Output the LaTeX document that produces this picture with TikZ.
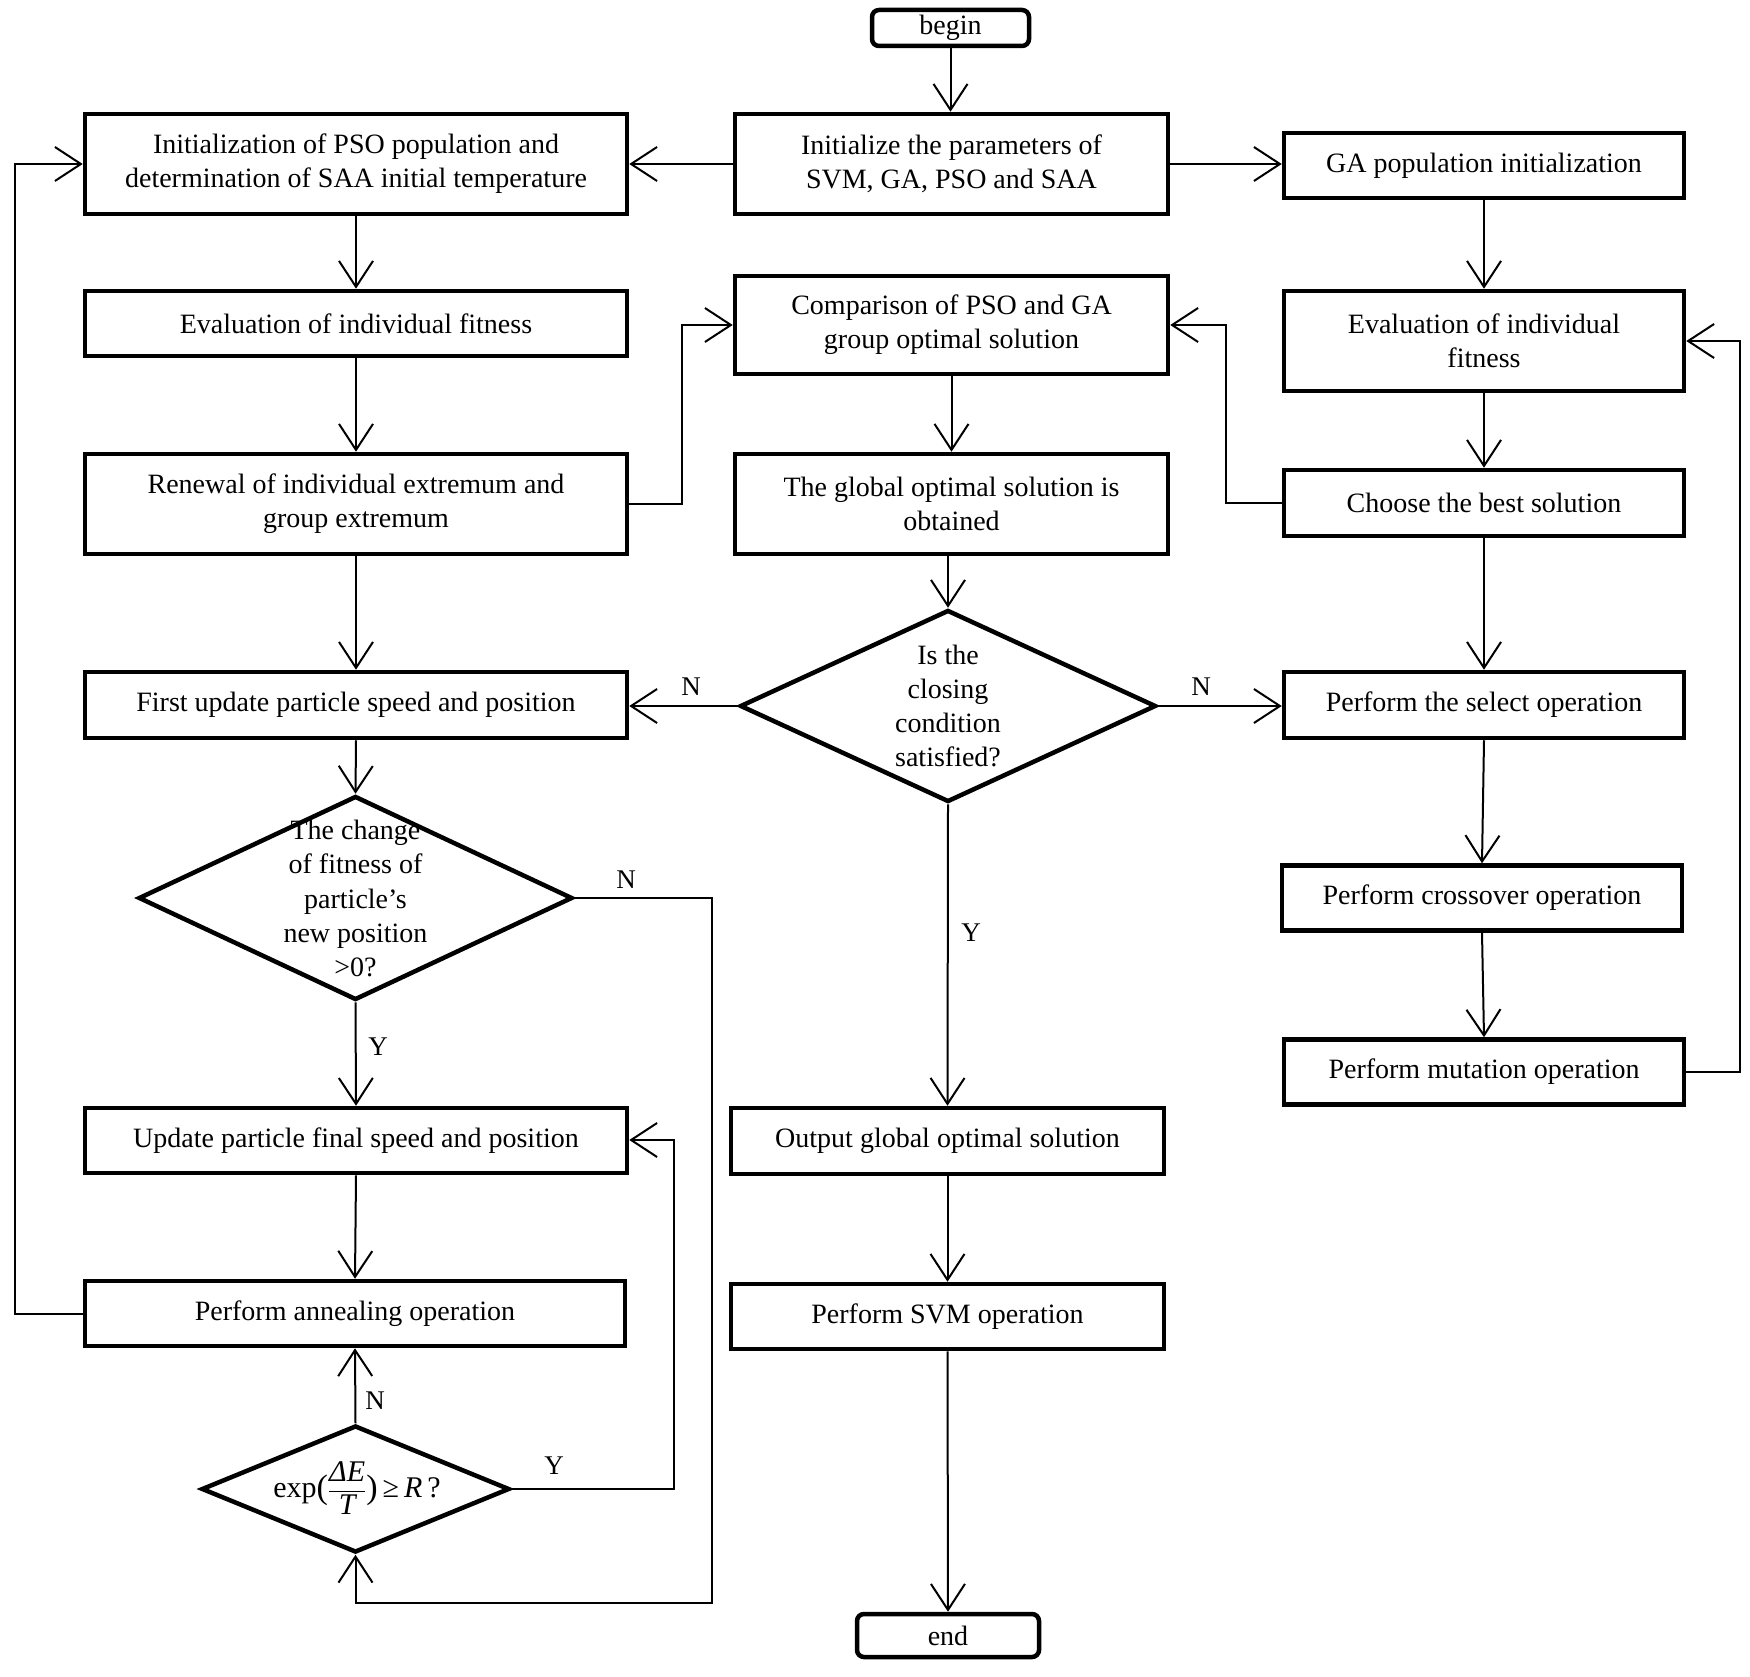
\documentclass[tikz,border=0pt]{standalone}
\usepackage{fontspec}
\setmainfont{Liberation Serif}
\usetikzlibrary{arrows.meta,shapes.geometric}
\begin{document}
\begin{tikzpicture}[x=1pt,y=-1pt,
  box/.style={draw,line width=4.5pt,rectangle,inner sep=0pt,align=center,font=\fontsize{28}{34}\selectfont},
  term/.style={box,rounded corners=7pt},
  diam/.style={draw,line width=4.5pt,diamond,inner sep=0pt},
  dtext/.style={align=center,font=\fontsize{28}{34.3}\selectfont,inner sep=0pt},
  conn/.style={line width=2pt,-{Straight Barb[length=26pt,width=34pt,line width=2pt]}},
  lab/.style={font=\fontsize{27}{30}\selectfont,inner sep=0pt}]
\useasboundingbox (0,0) rectangle (1750,1677);
% centre column
\node[term,minimum width=157pt,minimum height=36pt] (begin) at (950.5,28) {begin};
\node[box,minimum width=433pt,minimum height=100pt] (c1) at (951.5,164) {Initialize the parameters of\\SVM, GA, PSO and SAA};
\node[box,minimum width=433pt,minimum height=98pt] (c2) at (951.5,325) {Comparison of PSO and GA\\group optimal solution};
\node[box,minimum width=433pt,minimum height=100pt] (c3) at (951.5,504) {The global optimal solution is\\obtained};
\node[diam,minimum width=416pt,minimum height=192pt] (d1) at (948,706) {};
\node[dtext] (d1t) at (d1) {Is the\\closing\\condition\\satisfied?};
\node[box,minimum width=433pt,minimum height=66pt] (c4) at (947.5,1141) {Output global optimal solution};
\node[box,minimum width=433pt,minimum height=65pt] (c5) at (947.5,1316.5) {Perform SVM operation};
\node[term,minimum width=182pt,minimum height=43pt] (end) at (948,1635.5) {end};
% left column
\node[box,minimum width=542pt,minimum height=100pt] (p1) at (356,164) {Initialization of PSO population and\\determination of SAA initial temperature};
\node[box,minimum width=542pt,minimum height=65pt] (p2) at (356,323.5) {Evaluation of individual fitness};
\node[box,minimum width=542pt,minimum height=100pt] (p3) at (356,504) {Renewal of individual extremum and\\group extremum};
\node[box,minimum width=542pt,minimum height=66pt] (p4) at (356,705) {First update particle speed and position};
\node[diam,minimum width=434pt,minimum height=204pt] (d2) at (355.5,898) {};
\node[dtext] (d2t) at (355.5,898.5) {The change\\of fitness of\\particle's\\new position\\>0?};
\node[box,minimum width=542pt,minimum height=65pt] (p5) at (356,1140.5) {Update particle final speed and position};
\node[box,minimum width=540pt,minimum height=65pt] (p6) at (355,1313.5) {Perform annealing operation};
\node[diam,minimum width=308pt,minimum height=127pt] (d3) at (355.5,1489) {};
\node[dtext,font=\fontsize{30}{34}\selectfont] (d3t) at (357,1489) {exp\raisebox{-1pt}{\fontsize{34}{36}\selectfont(}$\displaystyle\frac{\rule{0pt}{24pt}\textit{ΔE}}{\rule[-6pt]{0pt}{27pt}\textit{T}}$\raisebox{-1pt}{\fontsize{34}{36}\selectfont)}\,≥\,\textit{R}\,?};
% right column
\node[box,minimum width=400pt,minimum height=65pt] (g1) at (1484,165.5) {GA population initialization};
\node[box,minimum width=400pt,minimum height=100pt] (g2) at (1484,341) {Evaluation of individual\\fitness};
\node[box,minimum width=400pt,minimum height=66pt] (g3) at (1484,503) {Choose the best solution};
\node[box,minimum width=400pt,minimum height=66pt] (g4) at (1484,705) {Perform the select operation};
\node[box,minimum width=400pt,minimum height=65pt] (g5) at (1482,898) {Perform crossover operation};
\node[box,minimum width=400pt,minimum height=65pt] (g6) at (1484,1072) {Perform mutation operation};
% helper coordinates
\coordinate (xF) at (682,0);
\coordinate (xE) at (1226,0);
\coordinate (xD) at (1740,0);
\coordinate (xC) at (15,0);
\coordinate (lpA) at (712,1603);
\coordinate (lpB) at (674,1140);
% connectors centre
\draw[conn] (begin.south) -- (begin.south |- c1.north);
\draw[conn] (c1.west) -- (c1.west -| p1.east);
\draw[conn] (c1.east) -- (c1.east -| g1.west);
\draw[conn] (c2.south) -- (c3.north);
\draw[conn] (c3.south -| d1.north) -- (d1.north);
\draw[conn] (d1.west) -- (d1.west -| p4.east);
\node[lab] (nL) at (691,687) {N};
\draw[conn] (d1.east) -- (d1.east -| g4.west);
\node[lab] (nR) at (1201,687) {N};
\draw[conn] (d1.south) -- (c4.north);
\node[lab] (yC) at (971,933) {Y};
\draw[conn] (c4.south) -- (c5.north);
\draw[conn] (c5.south) -- (end.north);
% left
\draw[conn] (p1.south) -- (p2.north);
\draw[conn] (p2.south) -- (p3.north);
\draw[conn] (p3.south) -- (p4.north);
\draw[conn] (p4.south) -- (d2.north);
\draw[conn] (d2.south) -- (p5.north);
\node[lab] (yL) at (378,1047) {Y};
\draw[conn] (p5.south) -- (p6.north);
\draw[conn] (d3.north) -- (p6.south);
\node[lab] (n3) at (375,1401) {N};
\draw[conn] (p3.east) -- (p3.east -| xF) |- (c2.west);
\draw[conn] (d2.east) -| (lpA) -| (d3.south);
\node[lab] (n2) at (626,880) {N};
\draw[conn] (d3.east) -| (lpB) -- (lpB -| p5.east);
\node[lab] (y3) at (554,1466) {Y};
\draw[conn] (p6.west) -- (p6.west -| xC) |- (p1.west);
% right
\draw[conn] (g1.south) -- (g2.north);
\draw[conn] (g2.south) -- (g3.north);
\draw[conn] (g3.south) -- (g4.north);
\draw[conn] (g4.south) -- (g5.north);
\draw[conn] (g5.south) -- (g6.north);
\draw[conn] (g6.east) -- (g6.east -| xD) |- (g2.east);
\draw[conn] (g3.west) -- (g3.west -| xE) |- (c2.east);
\end{tikzpicture}
\end{document}
